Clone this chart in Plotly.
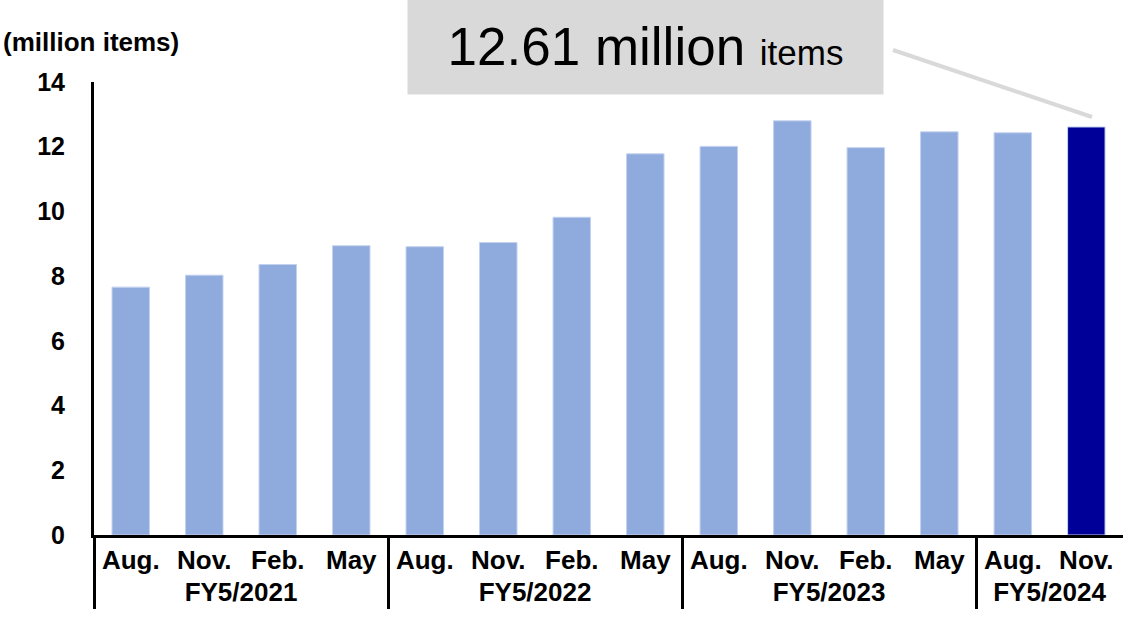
import plotly.graph_objects as go

# ---- data ----
fiscal_years = ["FY5/2021"] * 4 + ["FY5/2022"] * 4 + ["FY5/2023"] * 4 + ["FY5/2024"] * 2
months = ["Aug.", "Nov.", "Feb.", "May"] * 3 + ["Aug.", "Nov."]
values = [7.66, 8.03, 8.36, 8.94, 8.91, 9.04, 9.82, 11.78, 12.01, 12.80, 11.97, 12.46, 12.43, 12.61]
y_tick_vals = [0, 2, 4, 6, 8, 10, 12, 14]
unit_label = "(million items)"

LIGHT = "#8faadc"
DARK = "#000099"
bar_colors = [LIGHT] * (len(values) - 1) + [DARK]

FONT = "Liberation Sans, Arial, sans-serif"
NARROW = "Liberation Sans Narrow, Arial Narrow, Liberation Sans, Arial, sans-serif"

fig = go.Figure(
    go.Bar(
        x=[fiscal_years, months],
        y=values,
        marker=dict(color=bar_colors, line=dict(color="#c3d2ef", width=1)),
        hoverinfo="x+y",
    )
)

W, H = 1127, 620
L, R, T, B = 94, 4, 82, 85
pw, ph = W - L - R, H - T - B


def px_x(x):
    return (x - L) / pw


def px_y(y):
    return (H - B - y) / ph


fig.update_layout(
    width=W,
    height=H,
    margin=dict(l=L, r=R, t=T, b=B),
    plot_bgcolor="white",
    paper_bgcolor="white",
    showlegend=False,
    bargap=0.49,
    font=dict(family=FONT, color="black"),
)

fig.update_xaxes(
    type="multicategory",
    range=[-0.5, len(values) - 0.5 - 0.001],
    showline=True,
    linecolor="black",
    linewidth=3,
    showgrid=False,
    ticks="",
    showdividers=True,
    dividercolor="black",
    dividerwidth=3,
    tickfont=dict(family=FONT, size=26, color="black", weight="bold"),
)

fig.update_yaxes(
    range=[0, 14],
    tickvals=y_tick_vals,
    showline=True,
    linecolor="black",
    linewidth=3,
    showgrid=False,
    zeroline=False,
    ticks="outside",
    ticklen=21,
    tickcolor="rgba(0,0,0,0)",
    tickfont=dict(family=FONT, size=25, color="black", weight="bold"),
)

# unit label
fig.add_annotation(
    text=unit_label,
    xref="paper", yref="paper",
    x=px_x(1), y=px_y(42),
    xanchor="left", yanchor="middle",
    showarrow=False,
    font=dict(family=FONT, size=26, color="black", weight="bold"),
)

# callout box
latest = values[-1]
fig.add_annotation(
    text=f"{latest:.2f} million <span style='font-size:35px'>items</span>",
    xref="paper", yref="paper",
    x=px_x(645.5), y=px_y(46.5),
    xanchor="center", yanchor="middle",
    width=473, height=93,
    bgcolor="#d9d9d9",
    showarrow=False,
    font=dict(family=NARROW, size=53, color="black"),
)

# connector line
fig.add_shape(
    type="line",
    xref="paper", yref="paper",
    x0=px_x(893), y0=px_y(50),
    x1=px_x(1092), y1=px_y(117),
    line=dict(color="#d9d9d9", width=4),
)

fig.write_html("out.html")
